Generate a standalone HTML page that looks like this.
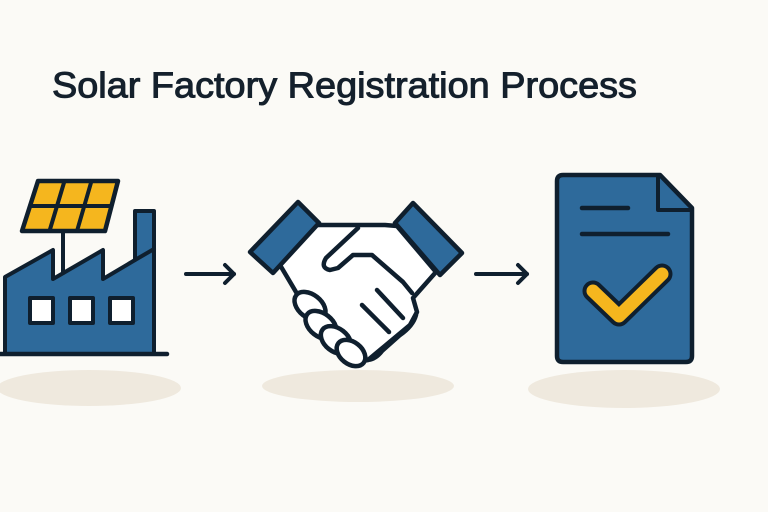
<!DOCTYPE html>
<html>
<head>
<meta charset="utf-8">
<style>
  html,body{margin:0;padding:0;background:#fbfaf6;}
  svg{display:block;}
</style>
</head>
<body>
<svg width="768" height="512" viewBox="0 0 768 512" xmlns="http://www.w3.org/2000/svg">
  <rect width="768" height="512" fill="#fbfaf6"/>

  <!-- Title -->
  <text x="52" y="97.5" font-family="'Liberation Sans', sans-serif" font-size="36" fill="#14202c" stroke="#14202c" stroke-width="1" textLength="585" lengthAdjust="spacingAndGlyphs">Solar Factory Registration Process</text>

  <!-- Shadows -->
  <ellipse cx="89" cy="388" rx="92" ry="18" fill="#efe9de"/>
  <ellipse cx="358" cy="386" rx="96" ry="16" fill="#efe9de"/>
  <ellipse cx="624" cy="389" rx="96" ry="19" fill="#efe9de"/>

  <g stroke="#0f1f2e" stroke-linejoin="round" stroke-linecap="round">
    <!-- Factory -->
    <path d="M5 354 L5 277 L53 250 L53 279 L103 250 L103 279 L135 260 L135 211 L154 211 L154 354 Z" fill="#2e6a9b" stroke-width="4"/>
    <line x1="135" y1="260" x2="154" y2="249" stroke-width="4"/>
    <line x1="0" y1="354" x2="167" y2="354" stroke-width="4.5"/>
    <rect x="30" y="298" width="23" height="25" fill="#ffffff" stroke-width="4"/>
    <rect x="70" y="298" width="23" height="25" fill="#ffffff" stroke-width="4"/>
    <rect x="110" y="298" width="23" height="25" fill="#ffffff" stroke-width="4"/>
    <!-- pole -->
    <line x1="63" y1="231" x2="63" y2="273" stroke-width="4"/>
    <!-- solar panel -->
    <polygon points="38,181 118,181 105,231 22,231" fill="#f5b61e" stroke-width="4.5"/>
    <line x1="64.5" y1="181" x2="49.5" y2="231" stroke-width="4"/>
    <line x1="91.5" y1="181" x2="77" y2="231" stroke-width="4"/>
    <line x1="30" y1="206" x2="111.5" y2="206" stroke-width="4"/>

    <!-- Arrow 1 -->
    <line x1="186" y1="274" x2="234" y2="274" stroke-width="4"/>
    <polyline points="225,265 234,274 225,283" fill="none" stroke-width="4"/>

    <!-- Handshake -->
    <path d="M280 265 L296 292 L300 300 L312 318 L322 334 L338 350 L355 362 L368 360 L392 340 L410 325 L417 312 L413 298 L436 272 L397 226 L385 225 L316 225 Z" fill="#ffffff" stroke-width="4.5"/>
    <!-- right hand bottom fingers -->
    <path d="M358 358 Q372 364 382 351 L400 335 Q413 326 416 315" fill="none" stroke-width="4.5"/>
    <!-- left hand knuckles -->
    <ellipse cx="310" cy="306" rx="17.5" ry="11.5" transform="rotate(38 310 306)" fill="#ffffff" stroke-width="4.5"/>
    <ellipse cx="321" cy="325" rx="17.5" ry="11.5" transform="rotate(38 321 325)" fill="#ffffff" stroke-width="4.5"/>
    <ellipse cx="336" cy="340" rx="17" ry="11.5" transform="rotate(38 336 340)" fill="#ffffff" stroke-width="4.5"/>
    <ellipse cx="351" cy="353" rx="16" ry="11" transform="rotate(38 351 353)" fill="#ffffff" stroke-width="4.5"/>
    <!-- thumb -->
    <path d="M358 228 L326 258 Q320 268 330 270 L338 268 L353 255 L372 255 L403 282 L412 293" fill="none" stroke-width="4.5"/>
    <!-- finger separators -->
    <line x1="377" y1="290" x2="403" y2="318" stroke-width="4.5"/>
    <line x1="362" y1="305" x2="389" y2="332" stroke-width="4.5"/>
    <!-- cuffs -->
    <polygon points="250,252 298,202 319,223 273,273" fill="#2e6a9b" stroke-width="4.5"/>
    <polygon points="395,223 413,203 462,253 440,275" fill="#2e6a9b" stroke-width="4.5"/>

    <!-- Arrow 2 -->
    <line x1="476" y1="274" x2="527" y2="274" stroke-width="4"/>
    <polyline points="518,265 527,274 518,283" fill="none" stroke-width="4"/>

    <!-- Document -->
    <path d="M557 181 Q557 175 563 175 L660 175 L692 208 L692 356 Q692 362 686 362 L563 362 Q557 362 557 356 Z" fill="#2e6a9b" stroke-width="4.5"/>
    <path d="M658 176 L658 210 L691 210" fill="none" stroke-width="4"/>
    <line x1="582" y1="208" x2="628" y2="208" stroke-width="4.5"/>
    <line x1="582" y1="234" x2="668" y2="234" stroke-width="4.5"/>
    <polyline points="593,291 619,316 662,274" fill="none" stroke-width="21"/>
  </g>
  <polyline points="593,291 619,316 662,274" fill="none" stroke="#f5b61e" stroke-width="13" stroke-linecap="round" stroke-linejoin="round"/>
</svg>
</body>
</html>
